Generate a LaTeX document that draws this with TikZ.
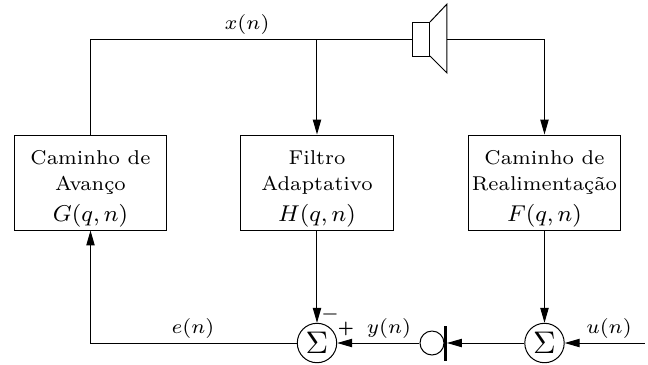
\documentclass[tikz,border=0pt]{standalone}
\usetikzlibrary{arrows.meta}
\newcommand{\boxmath}[1]{{\fontsize{8.4}{9.1}\selectfont$#1$}}
\tikzset{
  blockbox/.style={draw,line width=0.35pt,minimum width=53.55pt,minimum height=33.25pt,inner sep=0pt,align=center,font=\fontsize{7}{9.1}\selectfont},
  sumnode/.style={draw,circle,line width=0.35pt,minimum size=13.8pt,inner sep=0pt,font=\fontsize{11}{13}\selectfont},
  lbl/.style={inner sep=0pt,font=\fontsize{7}{9}\selectfont},
  conn/.style={line width=0.35pt},
  arr/.style={conn,-{Triangle[length=5.2pt,width=2.9pt]}},
  spk/.style={line width=0.35pt,line join=miter}
}
\begin{document}
\begin{tikzpicture}[x=0.35pt,y=-0.35pt]
\useasboundingbox (0,0) rectangle (648,364);
\node[blockbox] (G) at (90.5,182.5) {\rule{0pt}{9.2pt}Caminho de\\Avanço\\[1.75pt]\boxmath{G(q,n)}};
\node[blockbox] (H) at (317,182.5) {\rule{0pt}{9.2pt}Filtro\\Adaptativo\\[1.75pt]\boxmath{H(q,n)}};
\node[blockbox] (F) at (544.5,182.5) {\rule{0pt}{9.2pt}Caminho de\\Realimentação\\[1.75pt]\boxmath{F(q,n)}};
\node[sumnode] (S1) at (317,343) {$\Sigma$};
\node[sumnode] (S2) at (544.5,343) {$\Sigma$};
\node[draw,circle,line width=0.35pt,minimum size=8.4pt,inner sep=0pt] (M) at (432,343) {};
\coordinate (Bt) at (445.5,326);
\coordinate (Bb) at (445.5,361);
\coordinate (Bm) at (447,343);
\draw[line width=0.9pt] (Bt) -- (Bb);
% speaker
\coordinate (Sl) at (413,39);
\coordinate (Sr) at (447,39);
\coordinate (Tj) at (317,39);
\coordinate (Tl) at (90.5,39);
\coordinate (Tr) at (544.5,39);
\coordinate (U) at (645,343);
\draw[spk] (413,22) rectangle (430,56);
\draw[spk] (430,22) -- (447,4) -- (447,73) -- (430,56);
% connectors
\draw[conn] (G.north) -- (Tl) -- (Sl);
\draw[arr] (Tj) -- (H.north);
\draw[arr] (Sr) -- (Tr) -- (F.north);
\draw[arr] (H.south) -- (S1.north);
\draw[arr] (F.south) -- (S2.north);
\draw[arr] (S1.west) -- (90.5,343) -- (G.south);
\draw[arr] (M.west) -- (S1.east);
\draw[arr] (S2.west) -- (Bm);
\draw[arr] (U) -- (S2.east);
% labels
\node[lbl] (lx) at (247,24) {$x(n)$};
\node[lbl] (le) at (193,328) {$e(n)$};
\node[lbl] (ly) at (389,328) {$y(n)$};
\node[lbl] (lu) at (609,328) {$u(n)$};
\node[lbl] (lm) at (330,314) {$-$};
\node[lbl] (lp) at (346,329) {\fontsize{5}{6}\selectfont\bfseries +};
\end{tikzpicture}
\end{document}
